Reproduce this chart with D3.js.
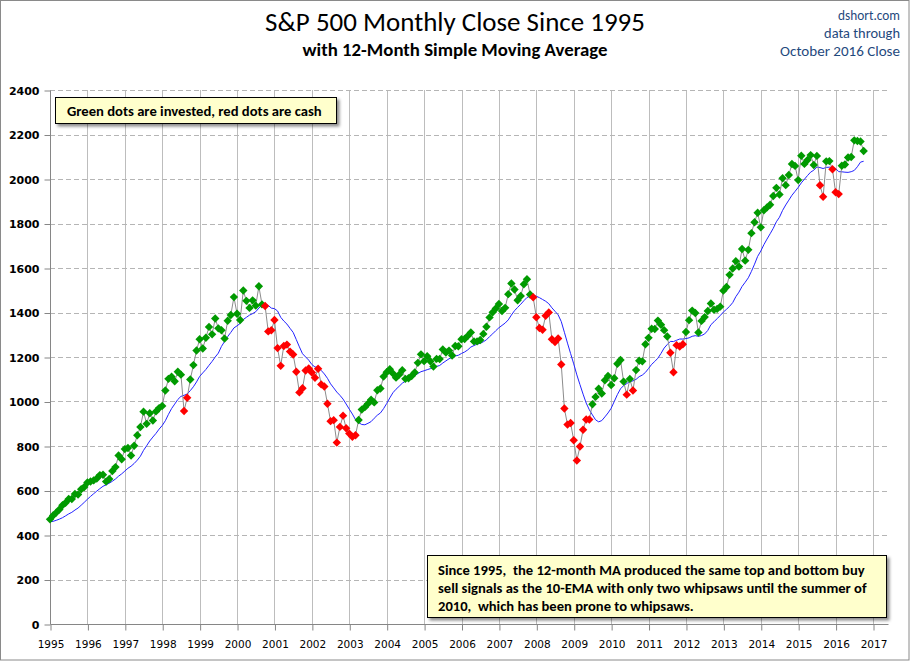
<!DOCTYPE html>
<html><head><meta charset="utf-8">
<script src="https://cdn.jsdelivr.net/npm/d3@7/dist/d3.min.js"></script>
<style>body{margin:0;background:#fff} svg{display:block}</style>
</head><body>
<svg id="chart" width="910" height="661"></svg>
<script>
// ---- DATA ----
// S&P 500 month-end closes, Feb–Dec 1994 (needed to seed the 12-month SMA)
const prior1994 = [467.14,445.77,450.91,456.50,444.27,458.26,475.49,462.69,472.35,453.69,459.27];
// S&P 500 month-end closes, Jan 1995 – Oct 2016
const closes = [
  470.42,487.39,500.71,514.71,533.40,544.75,562.06,561.88,584.41,581.50,605.37,615.93,      // 1995
  636.02,640.43,645.50,654.17,669.12,670.63,639.95,651.99,687.31,705.27,757.02,740.74,      // 1996
  786.16,790.82,757.12,801.34,848.28,885.14,954.31,899.47,947.28,914.62,955.40,970.43,      // 1997
  980.28,1049.34,1101.75,1111.75,1090.82,1133.84,1120.67,957.28,1017.01,1098.67,1163.63,1229.23, // 1998
  1279.64,1238.33,1286.37,1335.18,1301.84,1372.71,1328.72,1320.41,1282.71,1362.93,1388.91,1469.25, // 1999
  1394.46,1366.42,1498.58,1452.43,1420.60,1454.60,1430.83,1517.68,1436.51,1429.40,1314.95,1320.28, // 2000
  1366.01,1239.94,1160.33,1249.46,1255.82,1224.38,1211.23,1133.58,1040.94,1059.78,1139.45,1148.08, // 2001
  1130.20,1106.73,1147.39,1076.92,1067.14,989.82,911.62,916.07,815.28,885.76,936.31,879.82,  // 2002
  855.70,841.15,848.18,916.92,963.59,974.50,990.31,1008.01,995.97,1050.71,1058.20,1111.92,   // 2003
  1131.13,1144.94,1126.21,1107.30,1120.68,1140.84,1101.72,1104.24,1114.58,1130.20,1173.82,1211.92, // 2004
  1181.27,1203.60,1180.59,1156.85,1191.50,1191.33,1234.18,1220.33,1228.81,1207.01,1249.48,1248.29, // 2005
  1280.08,1280.66,1294.83,1310.61,1270.09,1270.20,1276.66,1303.82,1335.85,1377.94,1400.63,1418.30, // 2006
  1438.24,1406.82,1420.86,1482.37,1530.62,1503.35,1455.27,1473.99,1526.75,1549.38,1481.14,1468.36, // 2007
  1378.55,1330.63,1322.70,1385.59,1400.38,1280.00,1267.38,1282.83,1166.36,968.75,896.24,903.25,  // 2008
  825.88,735.09,797.87,872.81,919.14,919.32,987.48,1020.62,1057.08,1036.19,1095.63,1115.10,   // 2009
  1073.87,1104.49,1169.43,1186.69,1089.41,1030.71,1101.60,1049.33,1141.20,1183.26,1180.55,1257.64, // 2010
  1286.12,1327.22,1325.83,1363.61,1345.20,1320.64,1292.28,1218.89,1131.42,1253.30,1246.96,1257.60, // 2011
  1312.41,1365.68,1408.47,1397.91,1310.33,1362.16,1379.32,1406.58,1440.67,1412.16,1416.18,1426.19, // 2012
  1498.11,1514.68,1569.19,1597.57,1630.74,1606.28,1685.73,1632.97,1681.55,1756.54,1805.81,1848.36, // 2013
  1782.59,1859.45,1872.34,1883.95,1923.57,1960.23,1930.67,2003.37,1972.29,2018.05,2067.56,2058.90, // 2014
  1994.99,2104.50,2067.89,2085.51,2107.39,2063.11,2103.84,1972.18,1920.03,2079.36,2080.41,2043.94, // 2015
  1940.24,1932.23,2059.74,2065.30,2096.95,2098.86,2173.60,2170.95,2168.27,2126.15            // 2016
];
const startYear = 1995;
const smaWindow = 12;
const yearTicks = [1995,1996,1997,1998,1999,2000,2001,2002,2003,2004,2005,2006,2007,2008,2009,2010,2011,2012,2013,2014,2015,2016,2017];
const valueTicks = [0,200,400,600,800,1000,1200,1400,1600,1800,2000,2200,2400];
const titleText = "S&P 500 Monthly Close Since 1995";
const subtitleText = "with 12-Month Simple Moving Average";
const sourceLines = ["dshort.com","data through","October 2016 Close"];
const legendNote = "Green dots are invested, red dots are cash";
const commentLines = [
  "Since 1995,  the 12-month MA produced the same top and bottom buy",
  "sell signals as the 10-EMA with only two whipsaws until the summer of",
  "2010,  which has been prone to whipsaws."
];

// ---- DERIVED ----
const allCloses = prior1994.concat(closes);
const points = closes.map((c, i) => {
  const win = allCloses.slice(i + prior1994.length + 1 - smaWindow, i + prior1994.length + 1);
  const sma = d3.mean(win);
  return { t: startYear + i / 12, close: c, sma: sma, invested: c >= sma };
});

// ---- LAYOUT ----
const svg = d3.select("#chart");
const W = 910, H = 661;
const plotL = 50, plotR = 888, plotT = 90, plotB = 624;
const x = d3.scaleLinear().domain([1995, 2017]).range([50, 873]);
const y = d3.scaleLinear().domain([0, 2400]).range([plotB, plotT]);

const defs = svg.append("defs");
const f = defs.append("filter").attr("id","shadow").attr("x","-10%").attr("y","-20%").attr("width","130%").attr("height","160%");
f.append("feDropShadow").attr("dx",2.5).attr("dy",2.5).attr("stdDeviation",1.6).attr("flood-color","#000").attr("flood-opacity",0.45);

svg.append("rect").attr("x",0).attr("y",0).attr("width",W).attr("height",H).attr("fill","#fff");
svg.append("rect").attr("x",0.5).attr("y",0.5).attr("width",908.5).attr("height",659.5)
  .attr("fill","none").attr("stroke","#8a8a8a").attr("stroke-width",1);

// grid
const grid = svg.append("g");
grid.selectAll("line.v").data(yearTicks.slice(1)).join("line")
  .attr("x1", d => Math.round(x(d)) + 0.5).attr("x2", d => Math.round(x(d)) + 0.5)
  .attr("y1", plotT).attr("y2", plotB)
  .attr("stroke","#bdbdbd").attr("stroke-width",1);
grid.selectAll("line.h").data(valueTicks.slice(1)).join("line")
  .attr("x1", plotL).attr("x2", plotR)
  .attr("y1", d => Math.round(y(d)) + 0.5).attr("y2", d => Math.round(y(d)) + 0.5)
  .attr("stroke","#b5b5b5").attr("stroke-width",1).attr("stroke-dasharray","5,3");

// axes
const yAxis = d3.axisLeft(y).tickValues(valueTicks).tickSize(6).tickPadding(5).tickFormat(d3.format("d"));
const gy = svg.append("g").attr("transform", `translate(${plotL + 0.5},0.5)`).call(yAxis);
gy.select(".domain").attr("stroke","#868686").attr("d", `M-0,${plotT}V${plotB}`);
gy.selectAll(".tick line").attr("stroke","#868686");
gy.selectAll(".tick text").attr("font-family","DejaVu Sans, Verdana, sans-serif").attr("font-size",11)
  .attr("font-weight","bold").attr("fill","#000");

const xAxis = d3.axisBottom(x).tickValues(yearTicks).tickSize(6).tickPadding(10).tickFormat(d3.format("d"));
const gx = svg.append("g").attr("transform", `translate(0.5,${plotB + 0.5})`).call(xAxis);
gx.select(".domain").attr("stroke","#868686").attr("d", `M${plotL},0H${plotR}`);
gx.selectAll(".tick line").attr("stroke","#868686");
gx.selectAll(".tick text").attr("font-family","DejaVu Sans, Verdana, sans-serif").attr("font-size",10.5).attr("fill","#000");

// SMA line
svg.append("path").datum(points)
  .attr("fill","none").attr("stroke","#2222ff").attr("stroke-width",1)
  .attr("d", d3.line().x(d => x(d.t)).y(d => y(d.sma)));

// close line
svg.append("path").datum(points)
  .attr("fill","none").attr("stroke","#8c8c8c").attr("stroke-width",1)
  .attr("d", d3.line().x(d => x(d.t)).y(d => y(d.close)));

// markers
const diamond = "M0,-4.2L4.2,0L0,4.2L-4.2,0Z";
svg.append("g").selectAll("path").data(points).join("path")
  .attr("d", diamond)
  .attr("transform", d => `translate(${x(d.t)},${y(d.close)})`)
  .attr("fill", d => d.invested ? "#009a00" : "#ff0000");

// helper: fit text to a width
function fit(sel, target) {
  const w = sel.node().getComputedTextLength();
  const fs = parseFloat(sel.attr("font-size"));
  sel.attr("font-size", fs * target / w);
  return sel;
}
const calib = "Carlito, Lato, 'Open Sans', sans-serif";

// title
fit(svg.append("text").attr("x",455).attr("y",31).attr("text-anchor","middle")
  .attr("font-family",calib).attr("font-size",24).attr("fill","#000").text(titleText), 380);
fit(svg.append("text").attr("x",455).attr("y",56).attr("text-anchor","middle")
  .attr("font-family",calib).attr("font-weight","bold").attr("font-size",16).attr("fill","#000").text(subtitleText), 305);

// source
const srcY = [20, 38, 56];
const srcW = [62, 76, 120];
sourceLines.forEach((s, i) => {
  fit(svg.append("text").attr("x",900).attr("y",srcY[i]).attr("text-anchor","end")
    .attr("font-family",calib).attr("font-size",14).attr("fill","#1f497d").text(s), srcW[i]);
});

// legend note box
svg.append("rect").attr("x",55.5).attr("y",97.5).attr("width",281).attr("height",26)
  .attr("fill","#ffffcc").attr("stroke","#000").attr("stroke-width",1).attr("filter","url(#shadow)");
fit(svg.append("text").attr("x",67).attr("y",115.5).attr("font-family",calib).attr("font-weight","bold")
  .attr("font-size",13).attr("fill","#000").text(legendNote), 255);

// comment box
svg.append("rect").attr("x",427.5).attr("y",555.5).attr("width",459).attr("height",62)
  .attr("fill","#ffffcc").attr("stroke","#000").attr("stroke-width",1).attr("filter","url(#shadow)");
const cLines = commentLines.map((s, i) => svg.append("text").attr("x",438).attr("y",575 + i * 18)
  .attr("font-family",calib).attr("font-weight","bold").attr("font-size",13)
  .style("white-space","pre").attr("fill","#000").text(s));
const w0 = cLines[0].node().getComputedTextLength();
const fsC = 13 * 427 / w0;
cLines.forEach(t => t.attr("font-size", fsC));
</script>
</body></html>
